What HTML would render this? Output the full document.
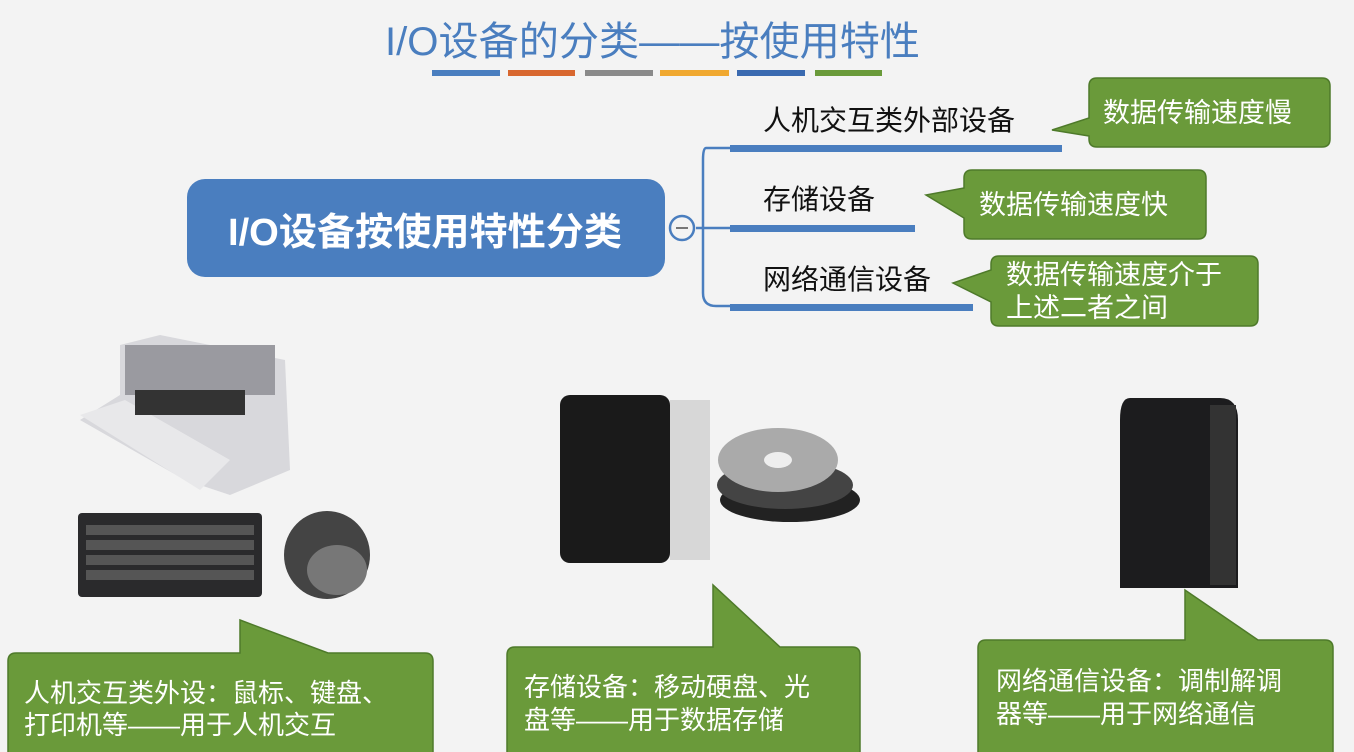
<!DOCTYPE html>
<html><head><meta charset="utf-8"><style>
html,body{margin:0;padding:0;background:#f3f3f3;}
svg{display:block}
text{font-family:"Liberation Sans","Noto Sans CJK SC",sans-serif;}
</style></head><body>
<svg width="1354" height="752" viewBox="0 0 1354 752" xmlns="http://www.w3.org/2000/svg">
<rect width="1354" height="752" fill="#f3f3f3"/>
<text x="385" y="55" font-size="40" fill="#4a7ebf" textLength="535" lengthAdjust="spacingAndGlyphs">I/O设备的分类——按使用特性</text>
<g stroke-width="6">
<line x1="432" y1="73" x2="500" y2="73" stroke="#4a7ebf"/>
<line x1="508" y1="73" x2="575" y2="73" stroke="#d8672f"/>
<line x1="585" y1="73" x2="653" y2="73" stroke="#8a8a8a"/>
<line x1="660" y1="73" x2="729" y2="73" stroke="#f0a830"/>
<line x1="737" y1="73" x2="805" y2="73" stroke="#3a6ab0"/>
<line x1="815" y1="73" x2="882" y2="73" stroke="#6a9a3a"/>
</g>
<rect x="187" y="179" width="478" height="98" rx="18" fill="#4a7ebf"/>
<text x="228" y="245" font-size="38" fill="#fff" font-weight="bold" textLength="394" lengthAdjust="spacingAndGlyphs">I/O设备按使用特性分类</text>
<path d="M696 228 H730 M730 148 H706 Q703 148 703 160 V293 Q703 306 716 306 H730" stroke="#4a7ebf" stroke-width="2.5" fill="none"/>
<circle cx="682" cy="228" r="12" fill="#f3f3f3" stroke="#4a7ebf" stroke-width="2.5"/>
<line x1="676" y1="228" x2="688" y2="228" stroke="#777" stroke-width="2"/>
<rect x="730" y="145" width="332" height="7" fill="#4a7ebf"/>
<rect x="730" y="225" width="185" height="7" fill="#4a7ebf"/>
<rect x="730" y="304" width="243" height="7" fill="#4a7ebf"/>
<g font-size="28" fill="#111"><text x="763" y="130">人机交互类外部设备</text><text x="763" y="209">存储设备</text><text x="763" y="289">网络通信设备</text></g>
<g fill="#6a9a3a" stroke="#4e7a2a" stroke-width="1.5">
<path d="M1097 78 H1322 Q1330 78 1330 86 V139 Q1330 147 1322 147 H1097 Q1089 147 1089 139 V136 L1052 130 L1089 118 V86 Q1089 78 1097 78Z"/>
<path d="M972 170 H1198 Q1206 170 1206 178 V231 Q1206 239 1198 239 H972 Q964 239 964 231 V218 L926 195 L964 188 V178 Q964 170 972 170Z"/>
<path d="M999 256 H1250 Q1258 256 1258 264 V318 Q1258 326 1250 326 H999 Q991 326 991 318 V302 L953 283 L991 270 V264 Q991 256 999 256Z"/>
</g>
<g font-size="27" fill="#fff"><text x="1103" y="122">数据传输速度慢</text><text x="979" y="214">数据传输速度快</text><text x="1006" y="284">数据传输速度介于</text><text x="1006" y="317">上述二者之间</text></g>
<g fill="#6a9a3a" stroke="#4e7a2a" stroke-width="1.5">
<path d="M16 653 H240 V620 L328 653 H425 Q433 653 433 661 V760 H8 V661 Q8 653 16 653Z"/>
<path d="M515 647 H713 V585 L780 647 H852 Q860 647 860 655 V760 H507 V655 Q507 647 515 647Z"/>
<path d="M986 640 H1185 V590 L1258 640 H1325 Q1333 640 1333 648 V760 H978 V648 Q978 640 986 640Z"/>
</g>
<g font-size="26" fill="#fff">
<text x="24" y="702">人机交互类外设：鼠标、键盘、</text><text x="24" y="734">打印机等——用于人机交互</text>
<text x="524" y="696">存储设备：移动硬盘、光</text><text x="524" y="729">盘等——用于数据存储</text>
<text x="996" y="690">网络通信设备：调制解调</text><text x="996" y="723">器等——用于网络通信</text>
</g>
<path d="M120 345 L160 335 L285 360 L290 470 L230 495 L185 480 L80 420 L120 395Z" fill="#d8d8dc"/>
<rect x="125" y="345" width="150" height="50" fill="#9a9aa0"/>
<path d="M80 415 L125 400 L230 460 L200 490Z" fill="#e8e8ea"/>
<rect x="135" y="390" width="110" height="25" fill="#333"/>
<rect x="78" y="513" width="184" height="84" rx="4" fill="#2a2a2c"/>
<g fill="#555"><rect x="86" y="525" width="168" height="10"/><rect x="86" y="540" width="168" height="10"/><rect x="86" y="555" width="168" height="10"/><rect x="86" y="570" width="168" height="10"/></g>
<ellipse cx="327" cy="555" rx="43" ry="44" fill="#444"/>
<ellipse cx="337" cy="570" rx="30" ry="25" fill="#777"/>
<rect x="560" y="395" width="110" height="168" rx="10" fill="#1a1a1a"/>
<rect x="670" y="400" width="40" height="160" fill="#bbb" opacity="0.5"/>
<ellipse cx="790" cy="500" rx="70" ry="22" fill="#222"/>
<ellipse cx="785" cy="485" rx="68" ry="24" fill="#444"/>
<ellipse cx="778" cy="460" rx="60" ry="32" fill="#aaa"/>
<ellipse cx="778" cy="460" rx="14" ry="8" fill="#eee"/>
<path d="M1130 398 H1220 Q1238 398 1238 420 V588 H1120 V420 Q1120 398 1130 398Z" fill="#1c1c1e"/>
<rect x="1210" y="405" width="26" height="180" fill="#333"/>
</svg>
</body></html>
